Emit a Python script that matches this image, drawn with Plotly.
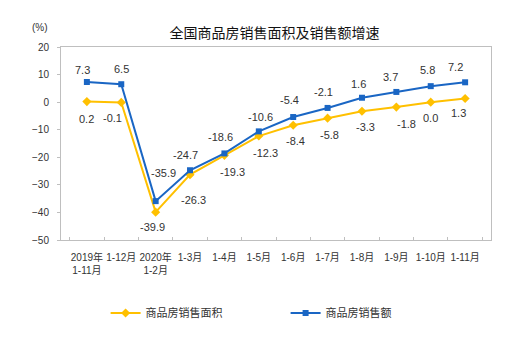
import plotly.graph_objects as go

categories = ["2019年<br>1-11月", "1-12月", "2020年<br>1-2月", "1-3月", "1-4月", "1-5月",
              "1-6月", "1-7月", "1-8月", "1-9月", "1-10月", "1-11月"]
area_growth = [0.2, -0.1, -39.9, -26.3, -19.3, -12.3, -8.4, -5.8, -3.3, -1.8, 0.0, 1.3]
sales_growth = [7.3, 6.5, -35.9, -24.7, -18.6, -10.6, -5.4, -2.1, 1.6, 3.7, 5.8, 7.2]
y_ticks = [20, 10, 0, -10, -20, -30, -40, -50]

# label offsets in pixels (style only): (dx, dy), dy positive = downward
area_offsets = [(0, 17), (-9, 16), (-3, 15), (3, 25), (8, 17), (7, 17),
                (2, 16), (2, 17), (4, 16), (10, 17), (0, 16), (-7, 14)]
sales_offsets = [(-4, -12), (0, -15), (8, -28), (-5, -15), (-4, -16), (2, -14),
                 (-4, -17), (-4, -16), (-3, -14), (-6, -15), (-3, -16), (-10, -15)]

FONT = "Liberation Sans, Noto Sans CJK SC, sans-serif"
YELLOW = "#FFC000"
BLUE = "#1A66C4"

fig = go.Figure()
fig.add_trace(go.Scatter(
    x=categories, y=area_growth, name="商品房销售面积",
    mode="lines+markers",
    line=dict(color=YELLOW, width=2),
    marker=dict(symbol="diamond", size=7, color=YELLOW),
))
fig.add_trace(go.Scatter(
    x=categories, y=sales_growth, name="商品房销售额",
    mode="lines+markers",
    line=dict(color=BLUE, width=2),
    marker=dict(symbol="square", size=6, color=BLUE),
))

annotations = []
for values, offsets in ((area_growth, area_offsets), (sales_growth, sales_offsets)):
    for cat, v, (dx, dy) in zip(categories, values, offsets):
        annotations.append(dict(
            x=cat, y=v, xref="x", yref="y", text=f"{v:.1f}", showarrow=False,
            xanchor="center", yanchor="middle", xshift=dx, yshift=-dy,
            font=dict(family=FONT, size=11, color="#333333"),
        ))
annotations.append(dict(text="(%)", xref="paper", yref="paper", x=-0.025, y=1.10,
                        xanchor="right", yanchor="middle", showarrow=False,
                        font=dict(family=FONT, size=10, color="#333333")))

fig.update_layout(
    width=528, height=340,
    margin=dict(l=61, r=37, t=47, b=100),
    paper_bgcolor="white", plot_bgcolor="white",
    font=dict(family=FONT, color="#333333"),
    title=dict(text="全国商品房销售面积及销售额增速", x=0.52, xanchor="center",
               y=1 - 33 / 340, yanchor="middle",
               font=dict(family="Noto Sans CJK SC, sans-serif", size=14, color="#111111")),
    showlegend=True,
    legend=dict(orientation="h", x=0.2, xanchor="left", y=1 - 313 / 340, yanchor="middle",
                yref="container", xref="container",
                font=dict(family="Noto Sans CJK SC, sans-serif", size=11, color="#333333"),
                entrywidth=135, itemwidth=30),
    annotations=annotations,
)
fig.update_xaxes(
    type="category", showline=True, linecolor="#BFBFBF", linewidth=1, mirror=True,
    ticks="inside", tickson="boundaries", ticklen=3, tickcolor="#BFBFBF",
    showgrid=False, tickangle=0, ticklabelstandoff=8,
    tickfont=dict(family=FONT, size=10, color="#333333"),
)
fig.update_yaxes(
    range=[-50, 20], tickvals=y_ticks, showline=True, linecolor="#BFBFBF", linewidth=1,
    mirror=True, ticks="outside", ticklen=3, tickcolor="#BFBFBF", showgrid=False,
    zeroline=False, ticklabelstandoff=6, tickfont=dict(family=FONT, size=10, color="#333333"),
)

fig.write_html("out.html")
